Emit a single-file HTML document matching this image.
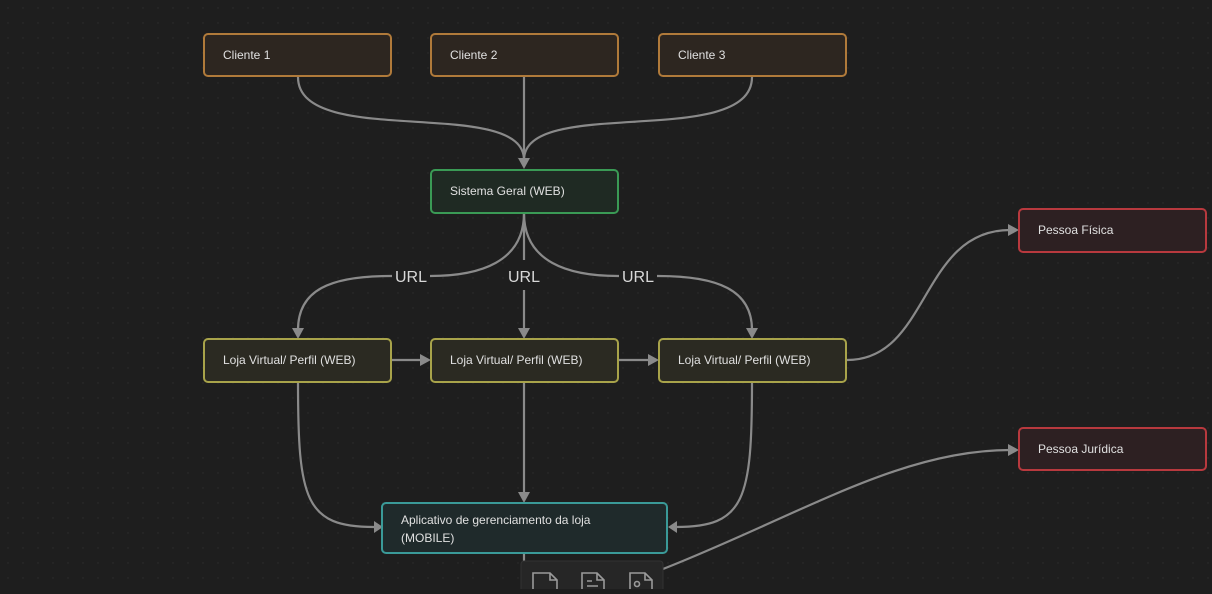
<!DOCTYPE html>
<html><head><meta charset="utf-8"><style>
body{margin:0;width:1212px;height:589px;overflow:hidden;background:#1e1e1e;font-family:"Liberation Sans",sans-serif}
</style></head><body>
<svg width="1212" height="589" viewBox="0 0 1212 589" xmlns="http://www.w3.org/2000/svg">
<defs>
<pattern id="dots" width="15" height="15" patternUnits="userSpaceOnUse" x="7" y="7"><circle cx="1" cy="1" r="0.7" fill="#2e2e2e"/></pattern>
<marker id="ar" viewBox="0 0 10 10" refX="5" refY="5" markerWidth="5" markerHeight="5" orient="auto-start-reverse" markerUnits="userSpaceOnUse"><path d="M0,0 L10,5 L0,10 z" fill="#8a8a8a"/></marker>
</defs>
<rect width="1212" height="589" fill="#1e1e1e"/>
<rect width="1212" height="589" fill="url(#dots)"/>
<g fill="none" stroke="#8a8a8a" stroke-width="2.2">
<path d="M298,77 C298,150 524,95 524,160"/>
<path d="M752,77 C752,150 524,95 524,160"/>
<path d="M524,77 L524,160"/>
<path d="M524,213 C524,262 480,276 430,276 L390,276 C330,276 298,290 298,330"/>
<path d="M524,213 C524,262 568,276 618,276 L658,276 C718,276 752,290 752,330"/>
<path d="M524,213 L524,330"/>
<path d="M392,360 L423,360"/>
<path d="M619,360 L650,360"/>
<path d="M847,360 C930,360 920,230 1010,230"/>
<path d="M298,382 C298,500 305,527 374,527"/>
<path d="M524,382 L524,495"/>
<path d="M752,382 C752,500 745,527 676,527"/>
<path d="M524,553 L524,562"/>
<path d="M663,569 C800,515 900,450 1010,450"/>
</g>
<g fill="#8a8a8a">
<path d="M518,158 L530,158 L524,169 z"/>
<path d="M292,328 L304,328 L298,339 z"/>
<path d="M518,328 L530,328 L524,339 z"/>
<path d="M746,328 L758,328 L752,339 z"/>
<path d="M420,354 L420,366 L431,360 z"/>
<path d="M648,354 L648,366 L659,360 z"/>
<path d="M1008,224 L1008,236 L1019,230 z"/>
<path d="M1008,444 L1008,456 L1019,450 z"/>
<path d="M518,492 L530,492 L524,503 z"/>
<path d="M374,521 L374,533 L383,527 z"/>
<path d="M677,521 L677,533 L668,527 z"/>
</g>
<g font-size="16" fill="#d8d8d8" text-anchor="middle">
<rect x="392" y="265" width="38" height="22" fill="#1e1e1e"/><text x="411" y="282">URL</text>
<rect x="505" y="260" width="38" height="30" fill="#1e1e1e"/><text x="524" y="282">URL</text>
<rect x="619" y="265" width="38" height="22" fill="#1e1e1e"/><text x="638" y="282">URL</text>
</g>
<g stroke-width="2" font-size="12" fill="#e0e0e0">
<rect x="204" y="34" width="187" height="42" rx="4" fill="#2d2620" stroke="#b07a3a"/>
<rect x="431" y="34" width="187" height="42" rx="4" fill="#2d2620" stroke="#b07a3a"/>
<rect x="659" y="34" width="187" height="42" rx="4" fill="#2d2620" stroke="#b07a3a"/>
<rect x="431" y="170" width="187" height="43" rx="4" fill="#1f2a23" stroke="#3a9a55"/>
<rect x="204" y="339" width="187" height="43" rx="4" fill="#2b2a22" stroke="#a8a34a"/>
<rect x="431" y="339" width="187" height="43" rx="4" fill="#2b2a22" stroke="#a8a34a"/>
<rect x="659" y="339" width="187" height="43" rx="4" fill="#2b2a22" stroke="#a8a34a"/>
<rect x="1019" y="209" width="187" height="43" rx="4" fill="#2d2022" stroke="#b8393e"/>
<rect x="1019" y="428" width="187" height="42" rx="4" fill="#2d2022" stroke="#b8393e"/>
<rect x="382" y="503" width="285" height="50" rx="4" fill="#1f2a2b" stroke="#3a9a98"/>
<rect x="521" y="561" width="142" height="40" rx="3" fill="#262626" stroke="#333" stroke-width="1"/>
<g stroke="none">
<text x="223" y="59">Cliente 1</text>
<text x="450" y="59">Cliente 2</text>
<text x="678" y="59">Cliente 3</text>
<text x="450" y="195">Sistema Geral (WEB)</text>
<text x="223" y="364">Loja Virtual/ Perfil (WEB)</text>
<text x="450" y="364">Loja Virtual/ Perfil (WEB)</text>
<text x="678" y="364">Loja Virtual/ Perfil (WEB)</text>
<text x="1038" y="234">Pessoa Física</text>
<text x="1038" y="453">Pessoa Jurídica</text>
<text x="401" y="524">Aplicativo de gerenciamento da loja</text>
<text x="401" y="542">(MOBILE)</text>
</g>
</g>
<g fill="none" stroke="#9a9a9a" stroke-width="1.6">
<path d="M533,590 L533,573 L550,573 L557,580 L557,590 M550,573 L550,580 L557,580"/>
<path d="M582,590 L582,573 L597,573 L604,580 L604,590 M597,573 L597,580 L604,580 M587,581 L592,581 M587,586 L598,586"/>
<path d="M630,590 L630,573 L645,573 L652,580 L652,590 M645,573 L645,580 L652,580"/>
<circle cx="637" cy="584" r="2.5"/>
</g>
</svg>
</body></html>
